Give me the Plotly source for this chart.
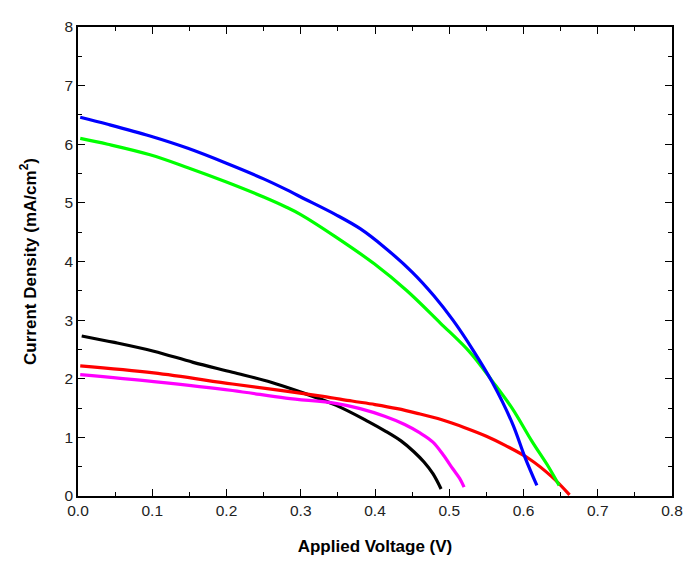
import plotly.graph_objects as go

# Voltage (V) / current density (mA/cm^2)
blue_v = [0.003, 0.04, 0.097, 0.148, 0.199, 0.25, 0.28, 0.3, 0.347, 0.38, 0.413, 0.45, 0.479, 0.505, 0.532, 0.558, 0.585, 0.602, 0.618]
blue_j = [6.46, 6.34, 6.14, 5.93, 5.68, 5.41, 5.23, 5.10, 4.80, 4.56, 4.24, 3.82, 3.42, 3.00, 2.49, 1.94, 1.24, 0.66, 0.18]

green_v = [0.003, 0.04, 0.097, 0.148, 0.199, 0.25, 0.28, 0.3, 0.347, 0.399, 0.443, 0.488, 0.528, 0.558, 0.585, 0.611, 0.634, 0.648]
green_j = [6.10, 6.00, 5.82, 5.60, 5.36, 5.10, 4.93, 4.80, 4.42, 3.96, 3.50, 2.95, 2.45, 1.96, 1.49, 0.94, 0.49, 0.18]

red_v = [0.003, 0.102, 0.208, 0.28, 0.33, 0.369, 0.4, 0.43, 0.457, 0.49, 0.52, 0.55, 0.576, 0.607, 0.638, 0.662]
red_j = [2.22, 2.10, 1.91, 1.79, 1.70, 1.62, 1.56, 1.49, 1.41, 1.30, 1.17, 1.02, 0.86, 0.64, 0.33, 0.02]

magenta_v = [0.003, 0.102, 0.208, 0.28, 0.347, 0.38, 0.413, 0.44, 0.46, 0.478, 0.492, 0.505, 0.514, 0.52]
magenta_j = [2.07, 1.95, 1.80, 1.67, 1.58, 1.49, 1.36, 1.22, 1.08, 0.92, 0.70, 0.46, 0.30, 0.15]

black_v = [0.005, 0.049, 0.102, 0.155, 0.208, 0.26, 0.296, 0.347, 0.391, 0.415, 0.435, 0.452, 0.466, 0.478, 0.489]
black_j = [2.73, 2.62, 2.47, 2.28, 2.11, 1.94, 1.79, 1.55, 1.27, 1.10, 0.94, 0.76, 0.58, 0.38, 0.12]

series = [
    (black_v, black_j, "#000000"),
    (magenta_v, magenta_j, "#ff00ff"),
    (red_v, red_j, "#ff0000"),
    (green_v, green_j, "#00ff00"),
    (blue_v, blue_j, "#0000ff"),
]

fig = go.Figure()
for v, j, c in series:
    fig.add_trace(go.Scatter(x=v, y=j, mode="lines",
                             line=dict(color=c, width=3.2, shape="spline", smoothing=1.0),
                             showlegend=False))

axis_common = dict(
    showline=True, linecolor="black", linewidth=1.5, mirror="allticks",
    ticks="inside", ticklen=7, tickwidth=1.2, tickcolor="black",
    showgrid=False, zeroline=False,
    tickfont=dict(family="Liberation Sans, Arial", size=15.5, color="#222222"),
)

# body has an 8px default margin in the browser, so the figure is shifted by 8px
fig.update_layout(
    width=685, height=556,
    margin=dict(l=70, r=10, t=10, b=68),
    paper_bgcolor="white", plot_bgcolor="white",
    xaxis=dict(range=[0, 0.8], dtick=0.1, tickformat=".1f",
               minor=dict(dtick=0.05, ticks="inside", ticklen=4, tickcolor="black"),
               title=dict(text="<b>Applied Voltage (V)</b>", standoff=22,
                          font=dict(family="Liberation Sans, Arial", size=17, color="black")),
               **axis_common),
    yaxis=dict(range=[0, 8], dtick=1,
               minor=dict(dtick=0.5, ticks="inside", ticklen=4, tickcolor="black"),
               title=dict(text="<b>Current Density (mA/cm<sup>2</sup>)</b>", standoff=24,
                          font=dict(family="Liberation Sans, Arial", size=17, color="black")),
               **axis_common),
)

fig.write_html("out.html")
